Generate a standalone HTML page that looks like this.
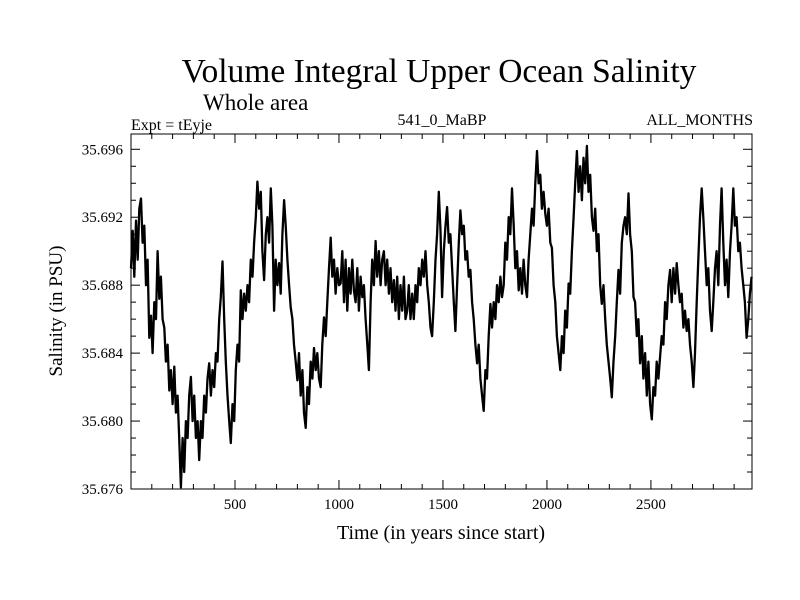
<!DOCTYPE html>
<html><head><meta charset="utf-8"><style>
body{margin:0;background:#fff;}
svg{display:block;font-family:"Liberation Serif",serif;}
</style></head><body>
<svg width="800" height="600" id="c">
<text x="439" y="82" font-size="33.5" text-anchor="middle">Volume Integral Upper Ocean Salinity</text>
<text x="203" y="110" font-size="23">Whole area</text>
<text x="131" y="130" font-size="16">Expt = tEyje</text>
<text x="442" y="125" font-size="16" text-anchor="middle">541_0_MaBP</text>
<text x="753" y="125" font-size="16" text-anchor="end">ALL_MONTHS</text>
<text x="441" y="539" font-size="20" text-anchor="middle">Time (in years since start)</text>
<text transform="translate(62,311) rotate(-90)" font-size="19" text-anchor="middle">Salinity (in PSU)</text>
<g id="ticks"></g>
<path id="line" fill="none" stroke="#000" stroke-width="2.3" stroke-linejoin="round"></path>
<rect x="131" y="134" width="621" height="355" fill="none" stroke="#000" stroke-width="1"></rect>
</svg>
<script>
const xTicks=[500,1000,1500,2000,2500];
const yTicks=[35.676,35.680,35.684,35.688,35.692,35.696];
const yearStep=8;
const salinity=[35.6890,35.6912,35.6885,35.6918,35.6895,35.6925,35.6931,35.6905,35.6915,35.6880,35.6895,35.6849,35.6862,35.6840,35.6870,35.6860,35.6900,35.6872,35.6885,35.6860,35.6855,35.6835,35.6845,35.6818,35.6830,35.6810,35.6832,35.6805,35.6815,35.6790,35.6761,35.6790,35.6770,35.6800,35.6790,35.6815,35.6826,35.6800,35.6815,35.6790,35.6800,35.6777,35.6800,35.6790,35.6815,35.6805,35.6825,35.6834,35.6815,35.6830,35.6820,35.6840,35.6835,35.6860,35.6873,35.6894,35.6860,35.6835,35.6815,35.6800,35.6787,35.6810,35.6800,35.6830,35.6845,35.6835,35.6877,35.6860,35.6875,35.6865,35.6880,35.6870,35.6895,35.6885,35.6905,35.6920,35.6941,35.6925,35.6935,35.6900,35.6883,35.6910,35.6920,35.6905,35.6937,35.6915,35.6865,35.6895,35.6880,35.6893,35.6875,35.6910,35.6930,35.6915,35.6895,35.6880,35.6867,35.6860,35.6845,35.6835,35.6824,35.6840,35.6815,35.6830,35.6805,35.6796,35.6820,35.6810,35.6835,35.6825,35.6843,35.6830,35.6840,35.6825,35.6820,35.6845,35.6861,35.6850,35.6870,35.6890,35.6908,35.6885,35.6895,35.6875,35.6890,35.6880,35.6881,35.6900,35.6870,35.6895,35.6865,35.6890,35.6875,35.6895,35.6877,35.6870,35.6890,35.6865,35.6885,35.6873,35.6880,35.6860,35.6845,35.6830,35.6870,35.6895,35.6880,35.6906,35.6885,35.6900,35.6880,35.6895,35.6900,35.6880,35.6895,35.6875,35.6890,35.6870,35.6883,35.6865,35.6885,35.6860,35.6880,35.6865,35.6885,35.6860,35.6865,35.6880,35.6860,35.6875,35.6860,35.6880,35.6870,35.6890,35.6880,35.6895,35.6885,35.6900,35.6880,35.6870,35.6855,35.6850,35.6870,35.6895,35.6910,35.6935,35.6912,35.6873,35.6900,35.6915,35.6926,35.6905,35.6910,35.6890,35.6870,35.6853,35.6880,35.6905,35.6924,35.6910,35.6915,35.6895,35.6900,35.6885,35.6889,35.6870,35.6860,35.6845,35.6834,35.6845,35.6825,35.6815,35.6806,35.6830,35.6825,35.6850,35.6869,35.6855,35.6870,35.6860,35.6880,35.6870,35.6885,35.6873,35.6880,35.6905,35.6895,35.6920,35.6910,35.6937,35.6915,35.6890,35.6900,35.6877,35.6890,35.6875,35.6895,35.6880,35.6873,35.6895,35.6910,35.6925,35.6915,35.6940,35.6959,35.6940,35.6945,35.6925,35.6935,35.6922,35.6915,35.6925,35.6905,35.6902,35.6880,35.6870,35.6850,35.6840,35.6830,35.6850,35.6840,35.6865,35.6855,35.6881,35.6875,35.6900,35.6920,35.6940,35.6959,35.6935,35.6950,35.6930,35.6955,35.6940,35.6962,35.6935,35.6945,35.6920,35.6912,35.6925,35.6900,35.6910,35.6880,35.6869,35.6880,35.6860,35.6845,35.6835,35.6825,35.6814,35.6835,35.6850,35.6870,35.6889,35.6875,35.6905,35.6915,35.6920,35.6910,35.6934,35.6910,35.6900,35.6873,35.6870,35.6850,35.6860,35.6834,35.6850,35.6825,35.6840,35.6815,35.6835,35.6810,35.6801,35.6820,35.6815,35.6835,35.6825,35.6838,35.6850,35.6845,35.6870,35.6860,35.6880,35.6889,35.6870,35.6890,35.6875,35.6893,35.6880,35.6870,35.6875,35.6855,35.6865,35.6853,35.6860,35.6845,35.6835,35.6820,35.6840,35.6870,35.6895,35.6920,35.6937,35.6920,35.6900,35.6880,35.6890,35.6865,35.6853,35.6870,35.6890,35.6900,35.6880,35.6915,35.6937,35.6905,35.6880,35.6895,35.6873,35.6900,35.6915,35.6937,35.6915,35.6920,35.6900,35.6905,35.6890,35.6880,35.6870,35.6849,35.6860,35.6875,35.6885];
const X0=131,X1=752,Y0=489,Y1=134;
const xMin=0,xMax=2986,yMin=35.676,yMax=35.6969;
const xs=v=>X0+(v-xMin)/(xMax-xMin)*(X1-X0);
const ys=v=>Y0-(v-yMin)/(yMax-yMin)*(Y0-Y1);
const NS="http://www.w3.org/2000/svg";
const g=document.getElementById('ticks');
function ln(x1,y1,x2,y2,name){const l=document.createElementNS(NS,'line');l.setAttribute('x1',x1);l.setAttribute('y1',y1);l.setAttribute('x2',x2);l.setAttribute('y2',y2);l.setAttribute('stroke','#000');l.setAttribute('stroke-width','1');


g.appendChild(l);}
for(let t=100;t<xMax;t+=100){const x=xs(t);const major=t%500===0;const L=major?9:5;ln(x,Y0,x,Y0-L,'x-tick');ln(x,Y1,x,Y1+L,'x-tick');}
for(let k=0;k<=20;k++){const v=35.676+k*0.001;if(v>yMax)break;const y=ys(v);const major=k%4===0;const L=major?9:5;ln(X0,y,X0+L,y,'y-tick');ln(X1,y,X1-L,y,'y-tick');}
xTicks.forEach(t=>{const e=document.createElementNS(NS,'text');e.setAttribute('x',xs(t));e.setAttribute('y',Y0+20);e.setAttribute('font-size','15');e.setAttribute('text-anchor','middle');e.textContent=t;


g.appendChild(e);});
yTicks.forEach(t=>{const e=document.createElementNS(NS,'text');e.setAttribute('x',X0-8);e.setAttribute('y',ys(t)+5);e.setAttribute('font-size','15');e.setAttribute('text-anchor','end');e.textContent=t.toFixed(3);


g.appendChild(e);});
let d='';salinity.forEach((v,i)=>{d+=(i?'L':'M')+xs(i*yearStep).toFixed(1)+','+ys(v).toFixed(1);});
document.getElementById('line').setAttribute('d',d);
</script>
</body></html>
